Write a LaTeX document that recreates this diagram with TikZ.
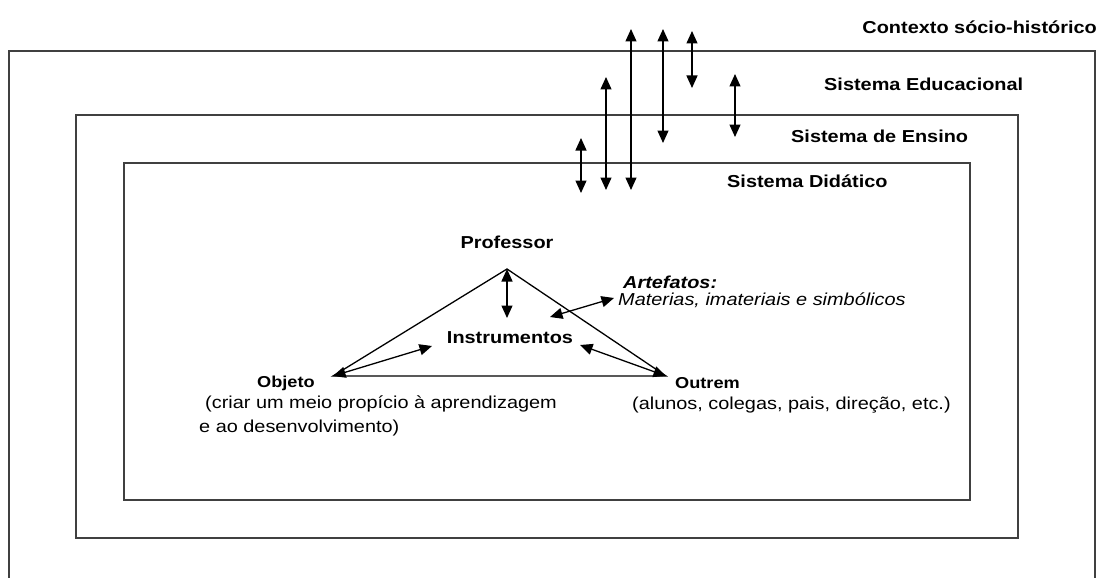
\documentclass[tikz,border=0pt]{standalone}
\usepackage{fontspec}
\setmainfont[FakeStretch=1.15]{Liberation Sans}
\usetikzlibrary{arrows.meta}

\begin{document}
\begin{tikzpicture}[x=1pt, y=-1pt, >={Triangle[length=12.5pt,width=11pt]}]
  % Estilos
  \tikzset{
    caixa/.style={line width=1.5pt, black!75},
    seta/.style={<->, line width=1.3pt},
    lado/.style={line width=1.3pt},
    nivel/.style={inner sep=0pt, font=\fontsize{17.3}{20}\selectfont\bfseries},
    polo/.style={inner sep=0pt, font=\fontsize{15.8}{18}\selectfont\bfseries},
    texto/.style={inner sep=0pt, font=\fontsize{17.3}{20}\selectfont},
    nota/.style={inner sep=0pt, font=\fontsize{17.3}{20}\selectfont\itshape}
  }
  \useasboundingbox (0,0) rectangle (1101,578);

  % Caixas dos sistemas (a externa sai da figura)
  \draw[caixa] (9,578) -- (9,51) -- (1095,51) -- (1095,578);
  \draw[caixa] (76,115) rectangle (1018,538);
  \draw[caixa] (124,163) rectangle (970,500);

  % Nomes dos sistemas
  \node[nivel, anchor=east] (contexto) at (1097,27) {Contexto sócio-histórico};
  \node[nivel, anchor=west] (educacional) at (824,84) {Sistema Educacional};
  \node[nivel, anchor=west] (ensino) at (791,136) {Sistema de Ensino};
  \node[nivel, anchor=west] (didatico) at (727,181) {Sistema Didático};

  % Trocas entre os sistemas
  \foreach \x/\ya/\yb [count=\i] in {631/29/190, 663/29/143, 692/31/88,
                                      606/77/190, 735/74/137, 581/138/193} {
    \coordinate (t\i) at (\x,\ya);
    \coordinate (b\i) at (\x,\yb);
    \draw[seta] (t\i) -- (b\i);
  }

  % Triângulo didático
  \coordinate (prof) at (507,269);
  \coordinate (obj) at (333,376);
  \coordinate (out) at (666,376);
  \draw[lado] (obj) -- (prof) -- (out) -- cycle;

  \node[nivel] (professor) at (507,242) {Professor};
  \node[nivel] (instr) at (510,338) {Instrumentos};
  \node[polo, anchor=west] (objeto) at (257,383) {Objeto};
  \node[texto, anchor=west] (objeto1) at (205,404) {(criar um meio propício à aprendizagem};
  \node[texto, anchor=west] (objeto2) at (199,428) {e ao desenvolvimento)};
  \node[polo, anchor=west] (outrem) at (675,383) {Outrem};
  \node[texto, anchor=west] (outrem1) at (632,405) {(alunos, colegas, pais, direção, etc.)};
  \node[nota, font=\fontsize{17.3}{20}\selectfont\bfseries\itshape, anchor=west] (artef) at (623,282) {Artefatos:};
  \node[nota, anchor=west] (artef1) at (618,300) {Materias, imateriais e simbólicos};

  % Setas para os instrumentos
  \coordinate (iprof) at (507,318);
  \coordinate (iobj) at (432,346);
  \coordinate (iout) at (580,345);
  \coordinate (iart) at (550,317);
  \coordinate (fart) at (614,298);
  \draw[seta] (prof) -- (iprof);
  \draw[seta] (obj) -- (iobj);
  \draw[seta] (out) -- (iout);
  \draw[seta] (iart) -- (fart);
\end{tikzpicture}
\end{document}
